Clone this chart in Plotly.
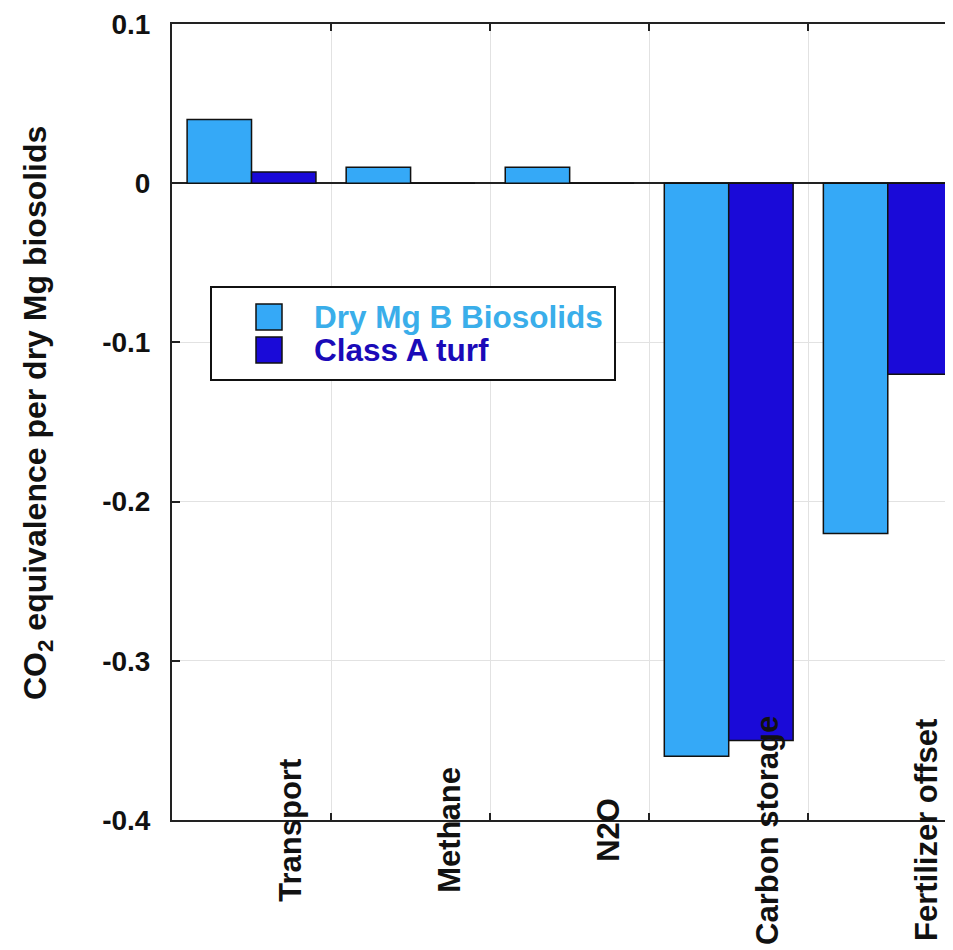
import plotly.graph_objects as go

categories = ["Transport", "Methane", "N2O", "Carbon storage", "Fertilizer offset"]
series_names = ["Dry Mg B Biosolids", "Class A turf"]
biosolids = [0.04, 0.01, 0.01, -0.36, -0.22]
turf = [0.007, 0, 0, -0.35, -0.12]
y_ticks = [0.1, 0, -0.1, -0.2, -0.3, -0.4]
y_tick_text = ["0.1", "0", "-0.1", "-0.2", "-0.3", "-0.4"]

light = "#35a9f7"
dark = "#1a0ad8"
light_txt = "#3aaeea"
dark_txt = "#1a0ab8"
FONT = "Liberation Sans, Arial, sans-serif"

# page body has an 8px margin; plot area in screen coords: x 172..953, y 24..820
PW, PH = 781, 796

xpos = list(range(len(categories)))

fig = go.Figure()
fig.add_trace(go.Bar(x=xpos, y=biosolids, name=series_names[0],
                     marker=dict(color=light, line=dict(color="#111", width=1.5)),
                     showlegend=False))
fig.add_trace(go.Bar(x=xpos, y=turf, name=series_names[1],
                     marker=dict(color=dark, line=dict(color="#111", width=1.5)),
                     showlegend=False))

# category labels, rotated, centered on the x axis line
for i, c in enumerate(categories):
    fig.add_annotation(x=i + 0.24, y=-0.4, xref="x", yref="y", text=f"<b>{c}</b>",
                       textangle=-90, showarrow=False, xanchor="center", yanchor="middle",
                       yshift=-10, font=dict(family=FONT, size=31, color="#111"))

# y axis title
fig.add_annotation(x=(37 - 172) / PW, y=(820 - 413) / PH, xref="paper", yref="paper",
                   text="<b>CO<sub>2</sub> equivalence per dry Mg biosolids</b>",
                   textangle=-90, showarrow=False, xanchor="center", yanchor="middle",
                   font=dict(family=FONT, size=32, color="#111"))

# legend box
fig.add_shape(type="rect", xref="paper", yref="paper",
              x0=(211 - 172) / PW, x1=(615 - 172) / PW,
              y0=(820 - 380) / PH, y1=(820 - 287) / PH,
              line=dict(color="#111", width=2), fillcolor="white", layer="above")
for col, tcol, nm, yc in [(light, light_txt, series_names[0], 317),
                          (dark, dark_txt, series_names[1], 350)]:
    ypc = (820 - yc) / PH
    fig.add_shape(type="rect", xref="paper", yref="paper",
                  x0=(256 - 172) / PW, x1=(282 - 172) / PW,
                  y0=ypc - 13 / PH, y1=ypc + 13 / PH,
                  line=dict(color="#111", width=1.5), fillcolor=col, layer="above")
    fig.add_annotation(x=(312 - 172) / PW, y=ypc, xref="paper", yref="paper",
                       text=f"<b>{nm}</b>", showarrow=False, xanchor="left", yanchor="middle",
                       font=dict(family=FONT, size=31.5, color=tcol))

fig.update_layout(
    width=945, height=942,
    margin=dict(l=164, r=0, t=16, b=130),
    plot_bgcolor="white", paper_bgcolor="white",
    barmode="group", bargap=0.19, bargroupgap=0,
    showlegend=False,
    font=dict(family=FONT, color="#111"),
)
fig.update_xaxes(range=[-0.5, 4.41], tickmode="array", tickvals=[0.5, 1.5, 2.5, 3.5],
                 showticklabels=False, showgrid=True, gridcolor="#e2e2e2", gridwidth=1,
                 ticks="inside", ticklen=7, tickwidth=2, tickcolor="#222",
                 showline=True, linecolor="#222", linewidth=2, mirror="ticks",
                 zeroline=False)
fig.update_yaxes(range=[-0.4, 0.1], tickmode="array", tickvals=y_ticks, ticktext=y_tick_text,
                 showgrid=True, gridcolor="#e2e2e2", gridwidth=1,
                 ticks="inside", ticklen=8, tickwidth=2, tickcolor="#222",
                 showline=True, linecolor="#222", linewidth=2,
                 zeroline=True, zerolinecolor="#222", zerolinewidth=2,
                 tickfont=dict(family=FONT, size=28, color="#111", weight="bold"),
                 ticklabelstandoff=14)

fig.write_html("out.html")
